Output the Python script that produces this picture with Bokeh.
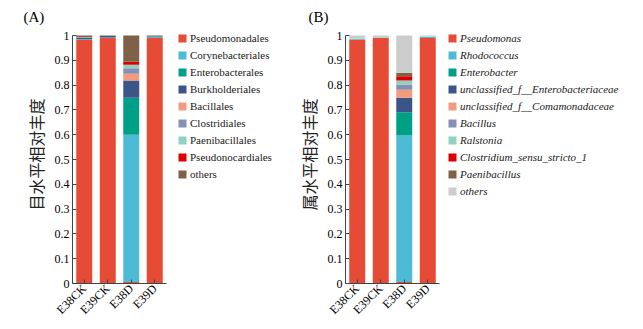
import math
from bokeh.plotting import figure
from bokeh.models import ColumnDataSource, FixedTicker, Range1d, Legend, LegendItem
from bokeh.layouts import row
from bokeh.embed import file_html
from bokeh.resources import INLINE

samples = ["E38CK", "E39CK", "E38D", "E39D"]

# Panel A: order level
orders = ["Pseudomonadales", "Corynebacteriales", "Enterobacterales", "Burkholderiales",
          "Bacillales", "Clostridiales", "Paenibacillales", "Pseudonocardiales", "others"]
Pseudomonadales = [0.982, 0.990, 0.006, 0.990]
Corynebacteriales = [0.003, 0.002, 0.594, 0.005]
Enterobacterales = [0.000, 0.000, 0.149, 0.000]
Burkholderiales = [0.006, 0.006, 0.070, 0.002]
Bacillales = [0.002, 0.000, 0.027, 0.000]
Clostridiales = [0.000, 0.000, 0.022, 0.000]
Paenibacillales = [0.000, 0.000, 0.014, 0.000]
Pseudonocardiales = [0.000, 0.000, 0.012, 0.000]
others_A = [0.007, 0.002, 0.106, 0.003]

# Panel B: genus level
genera = ["Pseudomonas", "Rhodococcus", "Enterobacter", "unclassified_f__Enterobacteriaceae",
          "unclassified_f__Comamonadaceae", "Bacillus", "Ralstonia",
          "Clostridium_sensu_stricto_1", "Paenibacillus", "others"]
Pseudomonas = [0.983, 0.990, 0.006, 0.990]
Rhodococcus = [0.004, 0.002, 0.591, 0.005]
Enterobacter = [0.000, 0.000, 0.094, 0.000]
unclassified_Enterobacteriaceae = [0.000, 0.000, 0.058, 0.000]
unclassified_Comamonadaceae = [0.000, 0.000, 0.032, 0.000]
Bacillus = [0.000, 0.000, 0.021, 0.000]
Ralstonia = [0.000, 0.000, 0.017, 0.000]
Clostridium = [0.000, 0.000, 0.017, 0.000]
Paenibacillus = [0.000, 0.000, 0.014, 0.000]
others_B = [0.013, 0.008, 0.150, 0.005]

y_ticks = [0, 0.1, 0.2, 0.3, 0.4, 0.5, 0.6, 0.7, 0.8, 0.9, 1.0]

colors_A = ["#E64B35", "#4DBBD5", "#00A087", "#3C5488", "#F39B7F",
            "#8491B4", "#91D1C2", "#DC0000", "#7E6148"]
colors_B = ["#E64B35", "#4DBBD5", "#00A087", "#3C5488", "#F39B7F",
            "#8491B4", "#91D1C2", "#DC0000", "#7E6148", "#CCCCCC"]

SERIF = "Liberation Serif"
CJK = "Noto Sans CJK SC"
ROW_H = 17
LEFT = 72          # px left of the frame
TOP = 25           # px above the frame
BOTTOM = 46        # px below the frame
H = 329
AX_PX = 248        # px for 0..1 on the y axis
CAT_PX = 23.5      # px per sample on the x axis


def make_panel(width, names, series, colors, ylabel, panel_label, title_offset, legend_dx, italic):
    n_s = len(samples)
    xs = [i + 0.5 for i in range(n_s)]
    data = {"x": xs}
    keys = []
    for i, s in enumerate(series):
        k = "s%d" % i
        data[k] = s
        keys.append(k)
    src = ColumnDataSource(data)
    frame_w = width - LEFT
    frame_h = H - TOP - BOTTOM
    p = figure(x_range=Range1d(0, frame_w / CAT_PX),
               y_range=Range1d(0, frame_h / AX_PX),
               width=width, height=H, output_backend="svg", toolbar_location=None,
               min_border_left=LEFT, min_border_right=0,
               min_border_top=TOP, min_border_bottom=BOTTOM)
    renderers = p.vbar_stack(keys, x="x", width=0.68, color=colors, source=src,
                             line_width=0)
    p.outline_line_color = None
    p.xgrid.grid_line_color = None
    p.ygrid.grid_line_color = None
    p.background_fill_color = "white"
    p.border_fill_color = "white"

    p.title.text = panel_label
    p.title.align = "left"
    p.title.offset = title_offset
    p.title.text_font = SERIF
    p.title.text_font_size = "15px"
    p.title.text_font_style = "normal"
    p.title.text_color = "black"
    p.title.standoff = 1

    ya = p.yaxis[0]
    ya.bounds = (0, 1)
    ya.ticker = FixedTicker(ticks=y_ticks)
    ya.major_label_overrides = {0: "0", 1: "1"}
    ya.major_tick_in = 4
    ya.major_tick_out = 0
    ya.minor_tick_line_color = None
    ya.axis_line_color = "#444444"
    ya.major_tick_line_color = "#444444"
    ya.major_label_text_font = SERIF
    ya.major_label_text_font_size = "12px"
    ya.major_label_text_color = "black"
    ya.major_label_standoff = 3
    ya.axis_label = ylabel
    ya.axis_label_text_font = CJK
    ya.axis_label_text_font_size = "16px"
    ya.axis_label_text_font_style = "normal"
    ya.axis_label_text_color = "#222222"
    ya.axis_label_standoff = 4

    xa = p.xaxis[0]
    xa.bounds = (0, n_s)
    xa.ticker = FixedTicker(ticks=xs)
    xa.major_label_overrides = {x: s for x, s in zip(xs, samples)}
    xa.major_tick_in = 4
    xa.major_tick_out = 0
    xa.minor_tick_line_color = None
    xa.axis_line_color = "#444444"
    xa.major_tick_line_color = "#444444"
    xa.major_label_orientation = math.pi / 4
    xa.major_label_text_font = SERIF
    xa.major_label_text_font_size = "12px"
    xa.major_label_text_color = "black"
    xa.major_label_standoff = 3

    lg = Legend(items=[LegendItem(label=nm, renderers=[r]) for nm, r in zip(names, renderers)])
    n = len(names)
    # location = (x from frame left, y of legend bottom above frame bottom)
    lg.location = (legend_dx, AX_PX + 5.5 - n * ROW_H)
    lg.padding = 0
    lg.margin = 0
    lg.border_line_color = None
    lg.background_fill_alpha = 0
    lg.glyph_width = 10
    lg.glyph_height = 10
    lg.label_height = ROW_H
    lg.spacing = 0
    lg.label_standoff = 3
    lg.label_text_font = SERIF
    lg.label_text_font_size = "11px"
    lg.label_text_font_style = "italic" if italic else "normal"
    lg.label_text_color = "#1a1a1a"
    p.add_layout(lg, "center")
    return p


pA = make_panel(273, orders,
                [Pseudomonadales, Corynebacteriales, Enterobacterales, Burkholderiales,
                 Bacillales, Clostridiales, Paenibacillales, Pseudonocardiales, others_A],
                colors_A, "目水平相对丰度", "(A)", -49, 105, False)
pB = make_panel(370, genera,
                [Pseudomonas, Rhodococcus, Enterobacter, unclassified_Enterobacteriaceae,
                 unclassified_Comamonadaceae, Bacillus, Ralstonia, Clostridium,
                 Paenibacillus, others_B],
                colors_B, "属水平相对丰度", "(B)", -37, 102, True)

layout = row(pA, pB, spacing=0)
open("out.html", "w").write(file_html(layout, INLINE))
